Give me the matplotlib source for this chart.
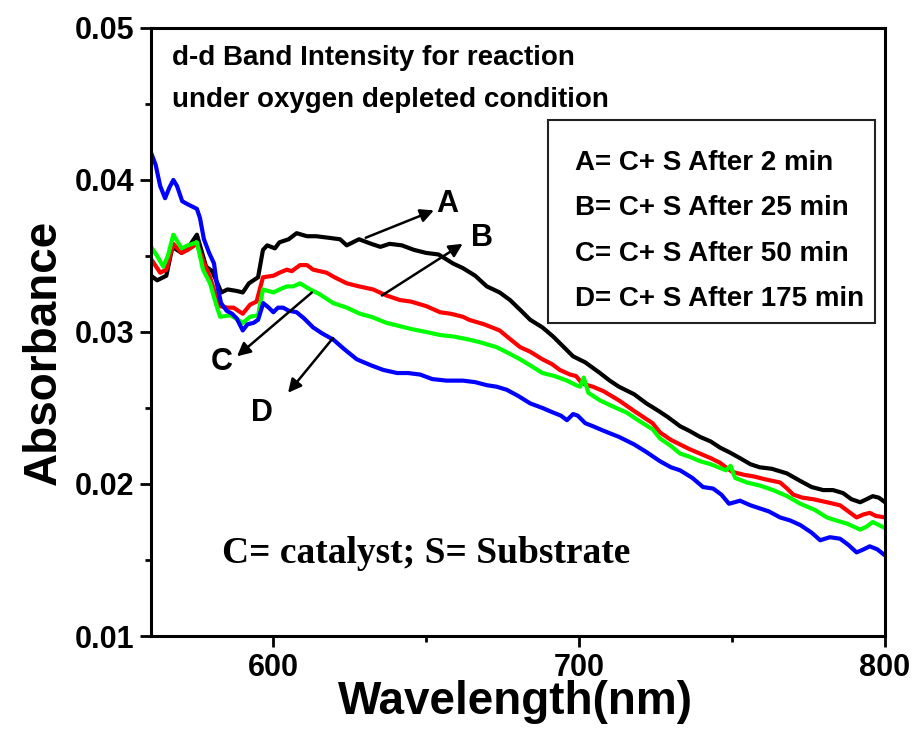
import matplotlib.pyplot as plt
from matplotlib.patches import Rectangle
from matplotlib.ticker import MultipleLocator

# Espectros UV-Vis (banda d-d)
wl_a = [560, 562, 565, 567, 570, 573, 575, 577, 578, 580, 583, 585, 588, 590, 592, 595,
        596.6, 598, 600.5, 602, 605, 607.6, 611, 614, 618, 621.8, 624, 628, 632, 635, 638,
        642, 646, 650, 654, 658.8, 662, 666, 669.8, 674, 677.4, 681, 684, 688, 691.5, 695,
        698, 702, 706.8, 710, 713, 718, 722, 726, 729, 733, 736, 739.5, 743, 746, 749,
        752.6, 756, 759, 763, 767.9, 772.3, 776, 779.8, 783, 786.3, 789, 791.9, 794, 796,
        798, 800]
abs_a = [0.0337, 0.0334, 0.0337, 0.0356, 0.0352, 0.0358, 0.0364, 0.0350, 0.0343, 0.0340,
         0.0326, 0.0328, 0.0327, 0.0326, 0.0332, 0.0336, 0.0354, 0.0357, 0.0355, 0.0359,
         0.0361, 0.0365, 0.0363, 0.0363, 0.0362, 0.0361, 0.0357, 0.0361, 0.0358, 0.0356,
         0.0358, 0.0357, 0.0354, 0.0352, 0.0351, 0.0345, 0.0342, 0.0337, 0.0330, 0.0326,
         0.0321, 0.0314, 0.0308, 0.0303, 0.0297, 0.0290, 0.0284, 0.0280, 0.0273, 0.0268,
         0.0264, 0.0259, 0.0253, 0.0248, 0.0244, 0.0238, 0.0235, 0.0231, 0.0228, 0.0224,
         0.0221, 0.0217, 0.0213, 0.0211, 0.0210, 0.0207, 0.0202, 0.0198, 0.0196, 0.0196,
         0.0194, 0.0190, 0.0188, 0.0190, 0.0192, 0.0191, 0.0188]

wl_b = [560, 563, 565, 567.3, 570, 572, 575, 577, 579.3, 581, 582.6, 585, 587, 590, 592.4,
        594.5, 596.6, 600, 602, 604.4, 606, 608.7, 611, 613, 617.4, 620, 624, 628, 632.6,
        637, 641.4, 645, 650, 654.5, 658, 662, 664, 669, 674, 677, 680.7, 684, 688, 691,
        693.7, 697, 699, 701, 704.5, 708, 713, 718, 724, 726.4, 730, 733, 736, 739.5, 743,
        746, 750, 754, 757, 761, 765.7, 768, 770, 773, 776.5, 781, 785.3, 788, 790.7, 793,
        795, 797, 800]
abs_b = [0.0348, 0.0339, 0.0341, 0.0358, 0.0352, 0.0354, 0.0358, 0.0347, 0.0336, 0.0325,
         0.0317, 0.0316, 0.0316, 0.0312, 0.0318, 0.0320, 0.0336, 0.0337, 0.0339, 0.0341,
         0.0340, 0.0344, 0.0344, 0.0341, 0.0339, 0.0336, 0.0332, 0.0330, 0.0328, 0.0324,
         0.0321, 0.0320, 0.0317, 0.0313, 0.0312, 0.0310, 0.0308, 0.0305, 0.0301, 0.0296,
         0.0290, 0.0287, 0.0282, 0.0279, 0.0275, 0.0272, 0.0271, 0.0266, 0.0264, 0.0261,
         0.0255, 0.0248, 0.0240, 0.0234, 0.0229, 0.0226, 0.0223, 0.0220, 0.0217, 0.0214,
         0.0208, 0.0206, 0.0205, 0.0203, 0.0201, 0.0197, 0.0193, 0.0191, 0.0190, 0.0188,
         0.0186, 0.0182, 0.0178, 0.0180, 0.0181, 0.0179, 0.0178]

wl_c = [560, 562, 564, 565.5, 567.3, 570, 572, 575, 577, 579.3, 581, 582.6, 586, 590,
        592.4, 595, 596.6, 600, 602, 604.4, 606.5, 608.7, 612, 615, 619.6, 624, 628.3,
        632, 637, 641, 645, 650, 654.5, 659, 664, 668, 673, 677, 680.7, 684, 688, 692,
        696, 699, 700.3, 701.5, 703, 706.8, 711, 715.5, 720, 724, 726.4, 730, 733, 736,
        739.5, 743, 748, 749.5, 751, 754.8, 759, 763.4, 768, 772.3, 777, 781, 784, 787.5,
        791.9, 794, 796, 798, 800]
abs_c = [0.0356, 0.0350, 0.0343, 0.0350, 0.0364, 0.0355, 0.0357, 0.0359, 0.0341, 0.0332,
         0.0320, 0.0310, 0.0311, 0.0306, 0.0310, 0.0311, 0.0328, 0.0326, 0.0328, 0.0330,
         0.0330, 0.0332, 0.0328, 0.0325, 0.0319, 0.0316, 0.0312, 0.0310, 0.0306, 0.0304,
         0.0302, 0.0300, 0.0298, 0.0297, 0.0295, 0.0293, 0.0290, 0.0286, 0.0282, 0.0278,
         0.0273, 0.0271, 0.0268, 0.0265, 0.0264, 0.0270, 0.0260, 0.0255, 0.0251, 0.0247,
         0.0241, 0.0236, 0.0230, 0.0225, 0.0220, 0.0218, 0.0215, 0.0213, 0.0209, 0.0212,
         0.0204, 0.0201, 0.0199, 0.0196, 0.0192, 0.0187, 0.0183, 0.0178, 0.0176, 0.0174,
         0.0170, 0.0172, 0.0175, 0.0173, 0.0171]

wl_d = [560, 561.5, 563, 564.6, 566, 567.3, 568.5, 570.2, 572, 575, 576, 577.3, 579,
        580.6, 581.5, 582.9, 584.7, 586.5, 588, 590, 591.5, 593.5, 595, 596.7, 598.5, 600,
        601.5, 603.2, 605, 607.6, 610, 613, 616, 619.6, 623, 627.3, 632, 636, 640.5, 644,
        648, 652, 656.7, 662, 666, 669.8, 673, 676.3, 680, 684, 688, 691.5, 694, 696, 698,
        699.5, 702, 704.5, 708, 713, 718, 722, 726.4, 730, 733, 737, 740.5, 743.8, 746.5,
        749, 752.6, 756, 759, 762, 765.7, 769, 772.3, 776, 778.8, 782, 785.3, 788, 790.7,
        793, 795, 797.5, 800]
abs_d = [0.0418, 0.0410, 0.0396, 0.0388, 0.0395, 0.0400, 0.0396, 0.0386, 0.0384, 0.0381,
         0.0375, 0.0361, 0.0352, 0.0345, 0.0332, 0.0319, 0.0314, 0.0312, 0.0309, 0.0301,
         0.0305, 0.0306, 0.0308, 0.0319, 0.0316, 0.0313, 0.0316, 0.0316, 0.0314, 0.0313,
         0.0309, 0.0303, 0.0299, 0.0295, 0.0289, 0.0282, 0.0278, 0.0275, 0.0273, 0.0273,
         0.0272, 0.0269, 0.0268, 0.0268, 0.0267, 0.0265, 0.0264, 0.0262, 0.0258, 0.0253,
         0.0250, 0.0247, 0.0245, 0.0242, 0.0246, 0.0245, 0.0240, 0.0238, 0.0235, 0.0231,
         0.0226, 0.0221, 0.0215, 0.0211, 0.0209, 0.0204, 0.0198, 0.0197, 0.0193, 0.0187,
         0.0189, 0.0186, 0.0184, 0.0182, 0.0178, 0.0176, 0.0173, 0.0168, 0.0163, 0.0165,
         0.0164, 0.0160, 0.0155, 0.0157, 0.0159, 0.0157, 0.0153]

series = [(wl_a, abs_a, 'black'), (wl_b, abs_b, '#ff0000'),
          (wl_c, abs_c, '#00ff00'), (wl_d, abs_d, '#0000ff')]

legend_lines = ["A= C+ S After 2 min", "B= C+ S After 25 min",
                "C= C+ S After 50 min", "D= C+ S After 175 min"]

# flechas: etiqueta, punto de la etiqueta, inicio y fin de la flecha (nm, abs)
arrow_labels = ['A', 'B', 'C', 'D']
label_pos = [(657, 0.0384), (668.2, 0.0362), (583.2, 0.0280), (596.3, 0.0247)]
arrow_from = [(630.2, 0.0362), (635.5, 0.0324), (612.6, 0.0326), (619.5, 0.0296)]
arrow_to = [(652.5, 0.0380), (661.9, 0.0358), (588.1, 0.0284), (604.8, 0.0260)]

plt.rcParams['font.family'] = ['Liberation Sans', 'DejaVu Sans']
plt.rcParams['font.weight'] = 'bold'

fig = plt.figure(figsize=(9.17, 7.34), dpi=100)
ax = fig.add_axes([0.1647, 0.1335, 0.8004, 0.8284])

for x, y, c in series:
    ax.plot(x, y, color=c, lw=3)

ax.set_xlim(560, 800)
ax.set_ylim(0.01, 0.05)
ax.xaxis.set_major_locator(MultipleLocator(100))
ax.xaxis.set_minor_locator(MultipleLocator(50))
ax.yaxis.set_minor_locator(MultipleLocator(0.005))
ax.set_yticks([0.01, 0.02, 0.03, 0.04, 0.05])
ax.set_yticklabels(['0.01', '0.02', '0.03', '0.04', '0.05'])
ax.tick_params(which='major', direction='out', length=8, width=2, labelsize=22, pad=4)
ax.tick_params(which='minor', direction='out', length=4, width=2)
for s in ax.spines.values():
    s.set_linewidth(2.2)

ax.set_xlabel('Wavelength(nm)', fontsize=33, fontweight='bold', va='top')
ax.xaxis.set_label_coords(0.496, -0.072)
ax.set_ylabel('Absorbance', fontsize=33, fontweight='bold', va='center')
ax.yaxis.set_label_coords(-0.146, 0.467)

ax.text(0.0286, 0.951, 'd-d Band Intensity for reaction', transform=ax.transAxes,
        fontsize=20, fontweight='bold', va='center')
ax.text(0.0286, 0.882, 'under oxygen depleted condition', transform=ax.transAxes,
        fontsize=20, fontweight='bold', va='center')

# cuadro con la leyenda de texto
ax.add_patch(Rectangle((0.541, 0.5148), 0.4455, 0.3339, transform=ax.transAxes,
                       fill=False, ec='#222222', lw=1.5))
legend_y = [0.7664, 0.6924, 0.6168, 0.5428]
for txt, yy in zip(legend_lines, legend_y):
    ax.text(0.577, yy, txt, transform=ax.transAxes, fontsize=20,
            fontweight='bold', va='baseline', ha='left')

for lab, lp, a0, a1 in zip(arrow_labels, label_pos, arrow_from, arrow_to):
    ax.annotate('', xy=a1, xytext=a0,
                arrowprops=dict(arrowstyle='-|>', color='black', lw=1.8,
                                mutation_scale=20, shrinkA=0, shrinkB=0))
    ax.text(lp[0], lp[1], lab, fontsize=22, fontweight='bold', ha='center', va='center')

ax.text(0.0967, 0.1365, 'C= catalyst; S= Substrate', transform=ax.transAxes,
        fontsize=27, fontweight='bold', va='center', family='Liberation Serif')

fig.savefig('out.png', dpi=100)
